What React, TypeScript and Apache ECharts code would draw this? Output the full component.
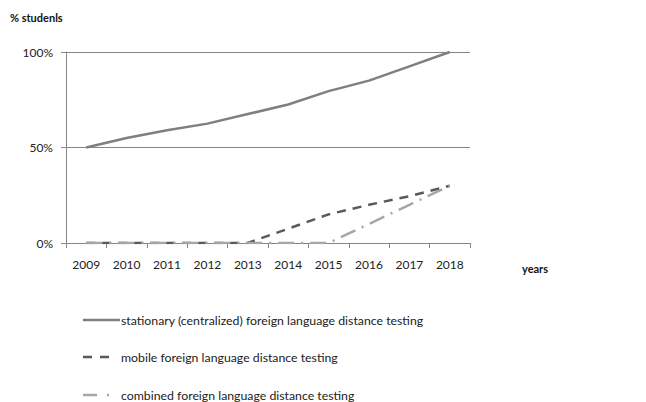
import React, { useEffect, useRef } from "react";
import * as echarts from "echarts";

const years = ["2009", "2010", "2011", "2012", "2013", "2014", "2015", "2016", "2017", "2018"];
const stationary = [50, 55, 59, 62.5, 67.5, 72.5, 79.5, 85, 92.5, 100];
const mobile = [0, 0, 0, 0, 0, 7.5, 15, 20, 24.5, 30];
const combined = [0, 0, 0, 0, 0, 0, 0, 10, 20, 30];
const seriesNames = [
  "stationary (centralized) foreign language distance testing",
  "mobile foreign language distance testing",
  "combined foreign language distance testing",
];
const seriesColors = ["#7f7f7f", "#595959", "#a6a6a6"];
const seriesDash: any[] = ["solid", [9, 7], [16, 7, 2, 7]];

const FONT = "Lato";

export default function App() {
  const ref = useRef<HTMLDivElement>(null);
  useEffect(() => {
    const chart = echarts.init(ref.current!, undefined, { renderer: "svg" });
    const legendRowsY = [320, 357, 395];
    const legendEnds = [120, 109, 110];
    const legendDash: any[] = [null, [9, 8], [14, 10, 2, 12]];
    const legendGraphics: any[] = [];
    seriesNames.forEach((name, i) => {
      const y = legendRowsY[i];
      legendGraphics.push({
        type: "line",
        shape: { x1: 83, y1: y, x2: legendEnds[i], y2: y },
        style: { stroke: seriesColors[i], lineWidth: 2.5, lineDash: legendDash[i] },
      });
      legendGraphics.push({
        type: "text",
        x: 121,
        y,
        style: { text: name, font: `12.3px ${FONT}`, fill: "#222", textVerticalAlign: "middle", textAlign: "left" },
      });
    });
    chart.setOption({
      animation: false,
      textStyle: { fontFamily: FONT },
      grid: { left: 66, right: 176, top: 52, bottom: 159 },
      xAxis: {
        type: "category",
        data: years,
        boundaryGap: true,
        axisLine: { lineStyle: { color: "#868686", width: 1 } },
        axisTick: { show: true, length: 5, lineStyle: { color: "#868686" } },
        axisLabel: { color: "#222", fontSize: 12, margin: 15, fontFamily: FONT },
      },
      yAxis: {
        type: "value",
        min: 0,
        max: 100,
        interval: 50,
        axisLine: { show: true, lineStyle: { color: "#868686", width: 1 } },
        axisTick: { show: true, length: 5, lineStyle: { color: "#868686" } },
        axisLabel: { color: "#222", fontSize: 12, margin: 13, formatter: "{value}%", fontFamily: FONT },
        splitLine: { show: true, lineStyle: { color: "#868686", width: 1 } },
      },
      graphic: [
        { type: "text", left: 10, top: 12, style: { text: "% studenls", font: `bold 11px ${FONT}`, fill: "#111" } },
        { type: "text", left: 522, top: 263, style: { text: "years", font: `bold 11px ${FONT}`, fill: "#111" } },
        ...legendGraphics,
      ],
      series: seriesNames.map((name, i) => ({
        name,
        type: "line",
        data: [stationary, mobile, combined][i],
        symbol: "none",
        lineStyle: { color: seriesColors[i], width: 2.5, type: seriesDash[i] },
        itemStyle: { color: seriesColors[i] },
      })),
    });
    return () => chart.dispose();
  }, []);
  return <div ref={ref} style={{ width: 646, height: 402, position: "absolute", left: 0, top: 0 }} />;
}
